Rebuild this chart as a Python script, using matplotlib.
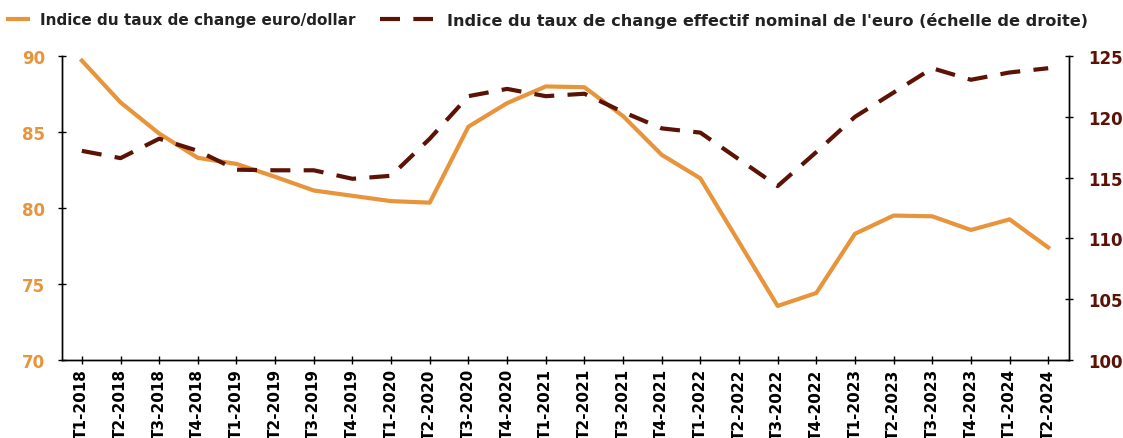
import numpy as np
import matplotlib.pyplot as plt

plt.rcParams['font.family'] = ['DejaVu Sans']
plt.rcParams['font.weight'] = 'bold'

quarters = ["T1-2018", "T2-2018", "T3-2018", "T4-2018",
            "T1-2019", "T2-2019", "T3-2019", "T4-2019",
            "T1-2020", "T2-2020", "T3-2020", "T4-2020",
            "T1-2021", "T2-2021", "T3-2021", "T4-2021",
            "T1-2022", "T2-2022", "T3-2022", "T4-2022",
            "T1-2023", "T2-2023", "T3-2023", "T4-2023",
            "T1-2024", "T2-2024"]

euro_dollar = [89.7, 86.95, 84.9, 83.3, 82.9, 82.05, 81.15, 80.8, 80.45, 80.35,
               85.35, 86.9, 88.0, 87.95, 86.05, 83.5, 81.95, 77.75, 73.55, 74.4,
               78.3, 79.5, 79.45, 78.55, 79.25, 77.4]

tcen_euro = [117.2, 116.6, 118.2, 117.2, 115.65, 115.6, 115.6, 114.9, 115.15, 118.2,
             121.7, 122.3, 121.7, 121.9, 120.4, 119.05, 118.7, 116.5, 114.3, 117.1,
             120.0, 122.0, 124.0, 123.05, 123.65, 124.0]

orange = "#E8943A"
brown = "#5C1205"
txt = "#222222"

x = np.arange(len(quarters))

fig, ax = plt.subplots(figsize=(11.23, 4.39), dpi=100)
fig.subplots_adjust(left=0.055, right=0.952, top=0.87, bottom=0.178)
ax2 = ax.twinx()

l1, = ax.plot(x, euro_dollar, color=orange, lw=3,
              label="Indice du taux de change euro/dollar")
l2, = ax2.plot(x, tcen_euro, color=brown, lw=3, dashes=(4.8, 3.2),
               label="Indice du taux de change effectif nominal de l'euro (échelle de droite)")

ax.set_xlim(-0.52, 25.54)
ax.set_ylim(70, 90)
ax2.set_ylim(100, 125)
ax.set_yticks([70, 75, 80, 85, 90])
ax2.set_yticks([100, 105, 110, 115, 120, 125])

ax.set_xticks(x)
ax.set_xticklabels(quarters, rotation=90, fontsize=11, fontweight='bold', color='black')

for a in (ax, ax2):
    a.spines['top'].set_visible(False)
    for s in a.spines.values():
        s.set_linewidth(1.0)

ax.tick_params(axis='y', labelcolor=orange, color='black', labelsize=12,
               direction='inout', length=6, width=1, pad=9)
ax.tick_params(axis='x', direction='inout', length=6, width=1, pad=3)
ax2.tick_params(axis='y', labelcolor=brown, color='black', labelsize=12,
                direction='inout', length=6, width=1, pad=11)
for lab in ax.get_yticklabels() + ax2.get_yticklabels():
    lab.set_fontweight('bold')

leg_kw = dict(loc='center left', frameon=False, borderpad=0,
              borderaxespad=0, labelcolor=txt)
fig.legend(handles=[l1], bbox_to_anchor=(8 / 1123, 1 - 21 / 439), fontsize=11,
           handlelength=1.31, handletextpad=0.79, **leg_kw)
fig.legend(handles=[l2], bbox_to_anchor=(380 / 1123, 1 - 21 / 439), fontsize=11.6,
           handlelength=3.3, handletextpad=0.87, **leg_kw)

fig.savefig("out.png", dpi=100)
